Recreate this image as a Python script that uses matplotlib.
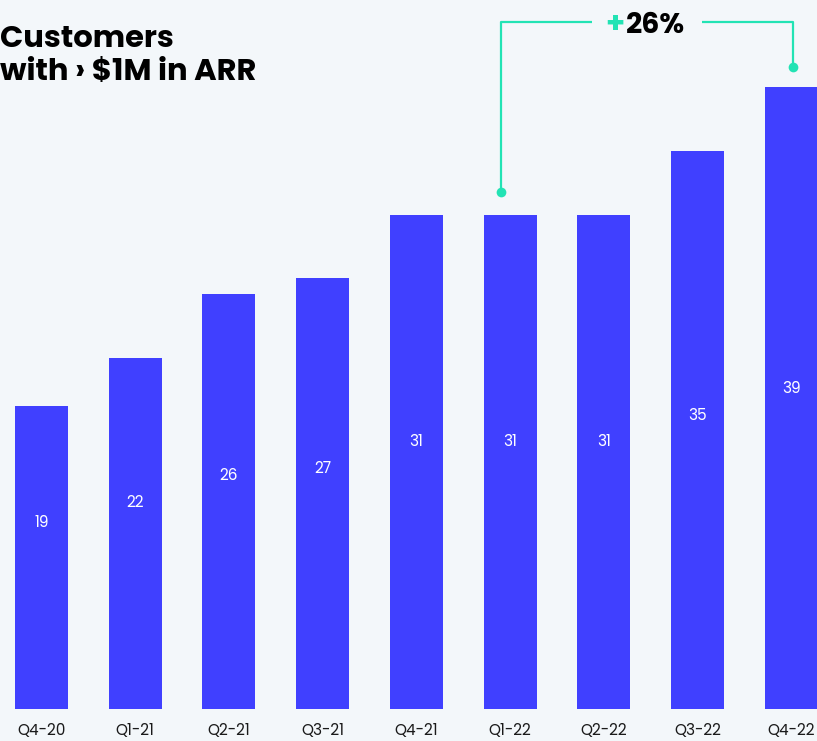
import matplotlib
matplotlib.use("Agg")
import matplotlib.pyplot as plt
from matplotlib.transforms import offset_copy

categories = ["Q4-20", "Q1-21", "Q2-21", "Q3-21", "Q4-21", "Q1-22", "Q2-22", "Q3-22", "Q4-22"]
values = [19, 22, 26, 27, 31, 31, 31, 35, 39]
growth_label = "26%"
growth_from = "Q1-22"
growth_to = "Q4-22"

BG = "#f3f7fa"
BAR = "#4040ff"
TEAL = "#22e3b4"
DPI = 100

plt.rcParams['font.family'] = ['Poppins', 'Inter', 'DejaVu Sans']

fig = plt.figure(figsize=(8.17, 7.41), dpi=DPI, facecolor=BG)
ax = fig.add_axes([0, 32 / 741, 1, 709 / 741])
ax.set_facecolor(BG)

x = list(range(len(categories)))
ax.bar(x, values, width=0.566, color=BAR, zorder=2)
ax.set_xlim(-0.443, 8.276)
ax.set_ylim(0, 44.45)

for xi, v in zip(x, values):
    ax.text(xi, v * 0.42 + 3.7, str(v), ha="center", va="center",
            color="white", fontsize=11)

ax.set_xticks(x)
ax.set_xticklabels(categories, fontsize=11, color="#1a1a1a")
ax.tick_params(axis="x", length=0, pad=10)
ax.set_yticks([])
for s in ax.spines.values():
    s.set_visible(False)

# bracket annotation
i0 = categories.index(growth_from)
i1 = categories.index(growth_to)
xl = i0 - 0.1
xr = i1 + 0.02
y_top = 43.07
yl = values[i0] + 1.4
yr = values[i1] + 1.25
xm = (xl + xr) / 2
gap = 0.59
ax.plot([xl, xl, xm - gap], [yl, y_top, y_top], color=TEAL, lw=1.6,
        solid_capstyle="butt", clip_on=False, zorder=3)
ax.plot([xm + gap, xr, xr], [y_top, y_top, yr], color=TEAL, lw=1.6,
        solid_capstyle="butt", clip_on=False, zorder=3)
ax.plot([xl, xr], [yl, yr], "o", color=TEAL, ms=7, mec="none", clip_on=False, zorder=3)

t_plus = offset_copy(ax.transData, fig=fig, x=-22 * 72 / DPI, y=0, units="points")
t_num = offset_copy(ax.transData, fig=fig, x=-21 * 72 / DPI, y=0, units="points")
ax.text(xm, y_top, "+", transform=t_plus, ha="right", va="center_baseline",
        color=TEAL, fontsize=22, fontweight="bold")
ax.text(xm, y_top, growth_label, transform=t_num, ha="left", va="center_baseline",
        color="black", fontsize=20.5, fontweight="bold")

fig.text(0.0, 1 - 25 / 741, "Customers\nwith \u203a $1M in ARR", ha="left", va="top",
         fontsize=22, fontweight="bold", color="black", linespacing=1.12)

fig.savefig("out.png", dpi=DPI, facecolor=BG)
